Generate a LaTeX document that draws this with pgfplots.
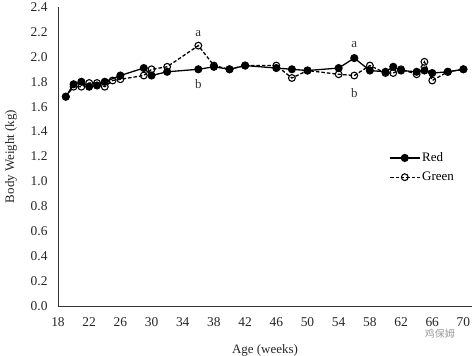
\documentclass[border=0pt]{standalone}
\usepackage{pgfplots}
\pgfplotsset{compat=1.18}
\usepackage{fontspec}
\setmainfont{Liberation Serif}
\newfontfamily\cjk{Noto Sans CJK SC}
\begin{document}
\begin{tikzpicture}
\begin{axis}[
  scale only axis,
  width=414bp, height=299bp,
  xmin=18, xmax=71.1, ymin=0, ymax=2.4,
  axis lines=left,
  axis line style={-, line width=0.8pt, black!80},
  xtick={18,22,...,70},
  ytick={0,0.2,...,2.41},
  major tick length=0pt,
  /pgf/number format/assume math mode=true,
  /pgf/number format/.cd, fixed, fixed zerofill, precision=1, /pgfplots/.cd,
  xticklabel={\pgfmathprintnumber[fixed,precision=0]{\tick}},
  tick label style={font=\fontsize{13.5}{15}\selectfont, black!85},
  xticklabel style={yshift=-8pt},
  yticklabel style={xshift=-7pt},
  xlabel={Age (weeks)},
  ylabel={Body Weight (kg)},
  label style={font=\fontsize{13}{15}\selectfont, black!85},
  xlabel style={yshift=-11pt},
  ylabel style={yshift=7pt},
  legend style={draw=none, fill=none, at={(0.80,0.52)}, anchor=north west,
    font=\fontsize{13}{15}\selectfont, row sep=5pt, inner sep=0pt},
  legend cell align=left,
  legend image code/.code={\draw[mark repeat=2,mark phase=2,#1] plot coordinates {(0cm,0cm)(0.52cm,0cm)(1.04cm,0cm)};},
  clip=false,
]
\addplot[black, line width=1.3pt, mark=*, mark size=3.4pt, mark options={solid, fill=black}] coordinates {
(19,1.68)(20,1.78)(21,1.80)(22,1.76)(23,1.77)(24,1.80)(26,1.85)(29,1.91)(30,1.85)(32,1.88)
(36,1.90)(38,1.92)(40,1.90)(42,1.93)(46,1.91)(48,1.90)(50,1.89)(54,1.91)(56,1.99)(58,1.89)
(60,1.88)(61,1.92)(62,1.89)(64,1.88)(65,1.89)(66,1.87)(68,1.88)(70,1.90)};
\addlegendentry{Red}
\addplot[black, line width=1.3pt, dash pattern=on 3.5pt off 2pt, mark=o, mark size=3.4pt, mark options={solid, fill=white, line width=1.1pt}] coordinates {
(19,1.68)(20,1.76)(21,1.76)(22,1.79)(23,1.79)(24,1.76)(25,1.81)(26,1.82)(29,1.85)(30,1.90)(32,1.92)
(36,2.09)(38,1.93)(40,1.90)(42,1.93)(46,1.93)(48,1.83)(50,1.89)(54,1.86)(56,1.85)(58,1.93)
(60,1.87)(61,1.87)(62,1.90)(64,1.86)(65,1.96)(66,1.81)(68,1.88)(70,1.90)};
\addlegendentry{Green}
\node[font=\fontsize{13}{15}\selectfont, black!80] at (axis cs:36,2.19) {a};
\node[font=\fontsize{13}{15}\selectfont, black!80] at (axis cs:36,1.78) {b};
\node[font=\fontsize{13}{15}\selectfont, black!80] at (axis cs:56,2.10) {a};
\node[font=\fontsize{13}{15}\selectfont, black!80] at (axis cs:56,1.71) {b};
\node[font=\cjk\fontsize{10}{11}\selectfont, black!40, anchor=west] at (axis cs:64.6,-0.22) {鸡保姆};
\coordinate (sw) at (rel axis cs:0,0);
\coordinate (ne) at (rel axis cs:1,1);
\end{axis}
\pgfresetboundingbox
\path[use as bounding box] ([shift={(-58bp,-50bp)}]sw) rectangle ([shift={(0bp,7bp)}]ne);
\end{tikzpicture}
\end{document}
